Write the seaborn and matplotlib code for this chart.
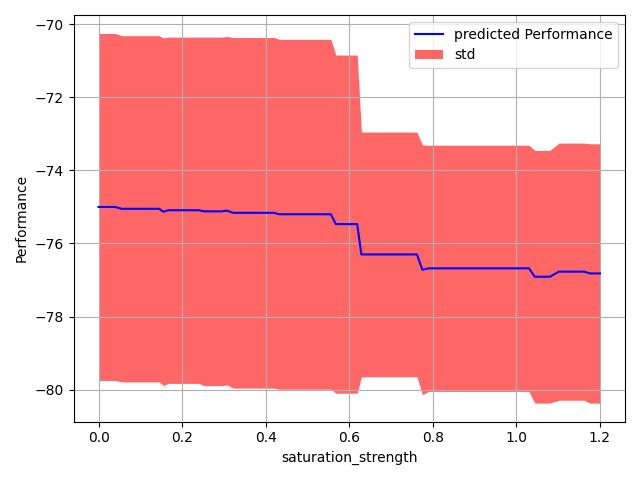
import numpy as np
import pandas as pd
import matplotlib
matplotlib.use('Agg')
import matplotlib.pyplot as plt
import seaborn as sns

# vertices of the predicted curve
saturation_strength = [0.000, 0.040, 0.055, 0.145, 0.155, 0.167, 0.240, 0.252,
                       0.295, 0.307, 0.322, 0.420, 0.432, 0.556, 0.568, 0.619,
                       0.629, 0.762, 0.775, 0.790, 1.030, 1.044, 1.080, 1.102,
                       1.162, 1.176, 1.200]
performance = [-75.00, -75.00, -75.05, -75.05, -75.13, -75.09, -75.09, -75.12,
               -75.12, -75.10, -75.16, -75.16, -75.20, -75.20, -75.47, -75.47,
               -76.30, -76.30, -76.72, -76.68, -76.68, -76.91, -76.91, -76.77,
               -76.77, -76.82, -76.82]
std = [4.75, 4.75, 4.74, 4.74, 4.76, 4.74, 4.74, 4.77,
       4.77, 4.77, 4.80, 4.80, 4.79, 4.79, 4.63, 4.63,
       3.35, 3.35, 3.42, 3.37, 3.37, 3.46, 3.46, 3.52,
       3.52, 3.55, 3.55]

df = pd.DataFrame({'saturation_strength': saturation_strength,
                   'Performance': performance, 'std': std})
lower = df['Performance'] - df['std']
upper = df['Performance'] + df['std']

fig, ax = plt.subplots(figsize=(6.4, 4.8), dpi=100)
sns.lineplot(data=df, x='saturation_strength', y='Performance', ax=ax,
             color='blue', label='predicted Performance', estimator=None)
ax.fill_between(df['saturation_strength'], lower, upper,
                color='red', alpha=0.6, linewidth=0, label='std')
ax.set_xlabel('saturation_strength')
ax.set_ylabel('Performance')
ax.grid(True)
ax.legend(loc='upper right')
plt.tight_layout()
plt.savefig('out.png', dpi=100)
plt.close(fig)
